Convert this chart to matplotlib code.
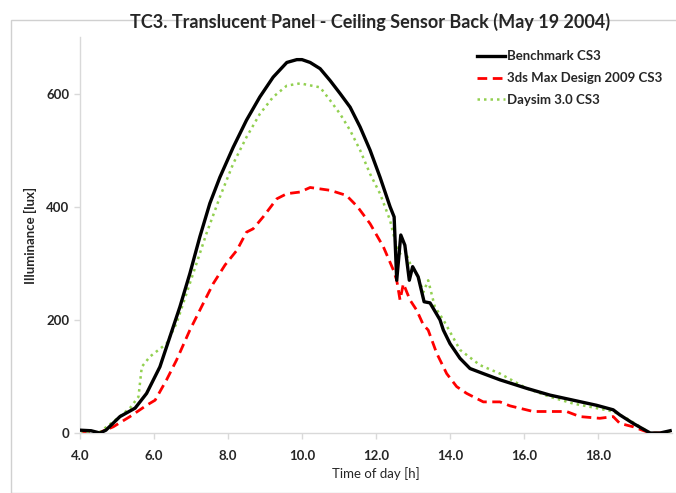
import matplotlib
matplotlib.use("Agg")
import matplotlib.pyplot as plt
from matplotlib.patches import Rectangle

plt.rcParams['font.family'] = ['Lato', 'DejaVu Sans']

# ---- data ----
bench_h = [4.0, 4.3, 4.54, 4.7, 5.08, 5.49, 5.8, 6.16, 6.43, 6.7, 6.97, 7.24, 7.51, 7.78,
           8.14, 8.5, 8.86, 9.22, 9.59, 9.86, 10.0, 10.22, 10.49, 10.76, 11.03, 11.3,
           11.57, 11.84, 12.11, 12.38, 12.49, 12.56, 12.67, 12.78, 12.9, 12.99, 13.14,
           13.3, 13.46, 13.73, 13.82, 14.0, 14.27, 14.54, 14.9, 15.35, 16.07, 16.7,
           17.33, 17.96, 18.41, 18.59, 18.95, 19.41, 19.68, 19.95]
bench_v = [5, 4, 0, 5, 29, 44, 70, 117, 170, 223, 282, 347, 406, 452,
           505, 553, 594, 629, 655, 660, 660, 655, 644, 623, 600, 576,
           541, 500, 452, 400, 382, 270, 350, 332, 270, 294, 276,
           232, 230, 200, 182, 158, 132, 114, 105, 94, 79, 67,
           58, 49, 41, 32, 17, 0, 0, 4]

max_h = [4.0, 4.5, 4.9, 5.35, 5.8, 6.03, 6.34, 6.61, 6.97, 7.33, 7.6, 7.92, 8.24, 8.5,
         8.68, 8.95, 9.32, 9.59, 9.95, 10.22, 10.76, 11.2, 11.5, 11.84, 12.2, 12.47,
         12.56, 12.65, 12.74, 12.92, 13.1, 13.28, 13.41, 13.64, 13.91, 14.18, 14.45,
         14.9, 15.35, 15.62, 16.25, 16.79, 17.15, 17.51, 18.05, 18.41, 18.59, 18.95,
         19.4, 19.95]
max_v = [0, 0, 11, 29, 49, 58, 94, 129, 182, 229, 264, 297, 323, 355,
         361, 382, 414, 423, 426, 434, 429, 420, 400, 370, 329, 288,
         270, 235, 264, 235, 217, 191, 182, 141, 105, 82, 70,
         55, 55, 48, 38, 38, 38, 29, 26, 29, 17, 11,
         0, 0]

daysim_h = [4.0, 4.5, 4.9, 5.35, 5.58, 5.67, 5.89, 6.34, 6.61, 6.88, 7.15, 7.42, 7.78,
            8.14, 8.5, 8.86, 9.22, 9.59, 9.95, 10.49, 10.76, 11.03, 11.3, 11.57, 11.84,
            12.11, 12.38, 12.51, 12.65, 12.78, 12.92, 13.14, 13.28, 13.41, 13.59, 13.82,
            14.27, 14.81, 15.35, 16.07, 16.7, 17.33, 17.96, 18.41, 18.77, 19.14, 19.4,
            19.95]
daysim_v = [0, 0, 20, 44, 64, 117, 135, 158, 194, 247, 300, 353, 417,
            476, 523, 564, 594, 614, 618, 611, 588, 564, 535, 500, 458,
            423, 376, 341, 317, 323, 300, 276, 249, 270, 223, 200,
            147, 120, 105, 79, 64, 52, 44, 38, 26, 11, 0,
            0]

x_ticks = [4.0, 6.0, 8.0, 10.0, 12.0, 14.0, 16.0, 18.0]
y_ticks = [0, 200, 400, 600]

title = "TC3. Translucent Panel - Ceiling Sensor Back (May 19 2004)"
labels = ["Benchmark CS3", "3ds Max Design 2009 CS3", "Daysim 3.0 CS3"]

# ---- figure ----
fig = plt.figure(figsize=(6.76, 4.93), dpi=100)
fig.patches.append(Rectangle((11/676, 0), 1.0, 1 - 19.5/493, transform=fig.transFigure,
                             fill=False, edgecolor='#d0d0d0', linewidth=1.0))
ax = fig.add_axes([80/676, 1 - 433/493, 592/676, 396/493])

ax.plot(bench_h, bench_v, color='black', lw=2.4, label=labels[0], zorder=3)
ax.plot(max_h, max_v, color='#ff0000', lw=2.0, ls=(0, (3.5, 2.0)), label=labels[1], zorder=2)
ax.plot(daysim_h, daysim_v, color='#92d050', lw=1.8, ls=(0, (1, 1.6)), label=labels[2], zorder=2)

ax.set_xlim(4.0, 20.0)
ax.set_ylim(0, 700)
ax.set_xticks(x_ticks)
ax.set_xticklabels([f"{t:.1f}" for t in x_ticks])
ax.set_yticks(y_ticks)
for s in ['top', 'right']:
    ax.spines[s].set_visible(False)
for s in ['left', 'bottom']:
    ax.spines[s].set_color('#d9d9d9')
    ax.spines[s].set_linewidth(1.0)
ax.tick_params(axis='both', colors='#d9d9d9', length=4, width=1.0,
               labelcolor='#262626', labelsize=9.5)
ax.tick_params(axis='x', pad=8)
for lab in ax.get_xticklabels() + ax.get_yticklabels():
    lab.set_fontweight('bold')

ax.set_xlabel("Time of day [h]", fontsize=9.5, color='#262626', labelpad=4)
ax.set_ylabel("Illuminance [lux]", fontsize=9.5, color='#262626', fontweight='bold', labelpad=7)
fig.text(370/676, 1 - 22/493, title, ha='center', va='center', fontsize=13,
         fontweight='bold', color='#262626')

leg = ax.legend(loc='upper left', bbox_to_anchor=(392/592, 1 - 8/396), frameon=False,
                fontsize=9.5, handlelength=2.1, handletextpad=0.15, labelspacing=0.75,
                borderaxespad=0.0)
for t in leg.get_texts():
    t.set_fontweight('bold')
    t.set_color('#262626')

fig.savefig("out.png", dpi=100)
